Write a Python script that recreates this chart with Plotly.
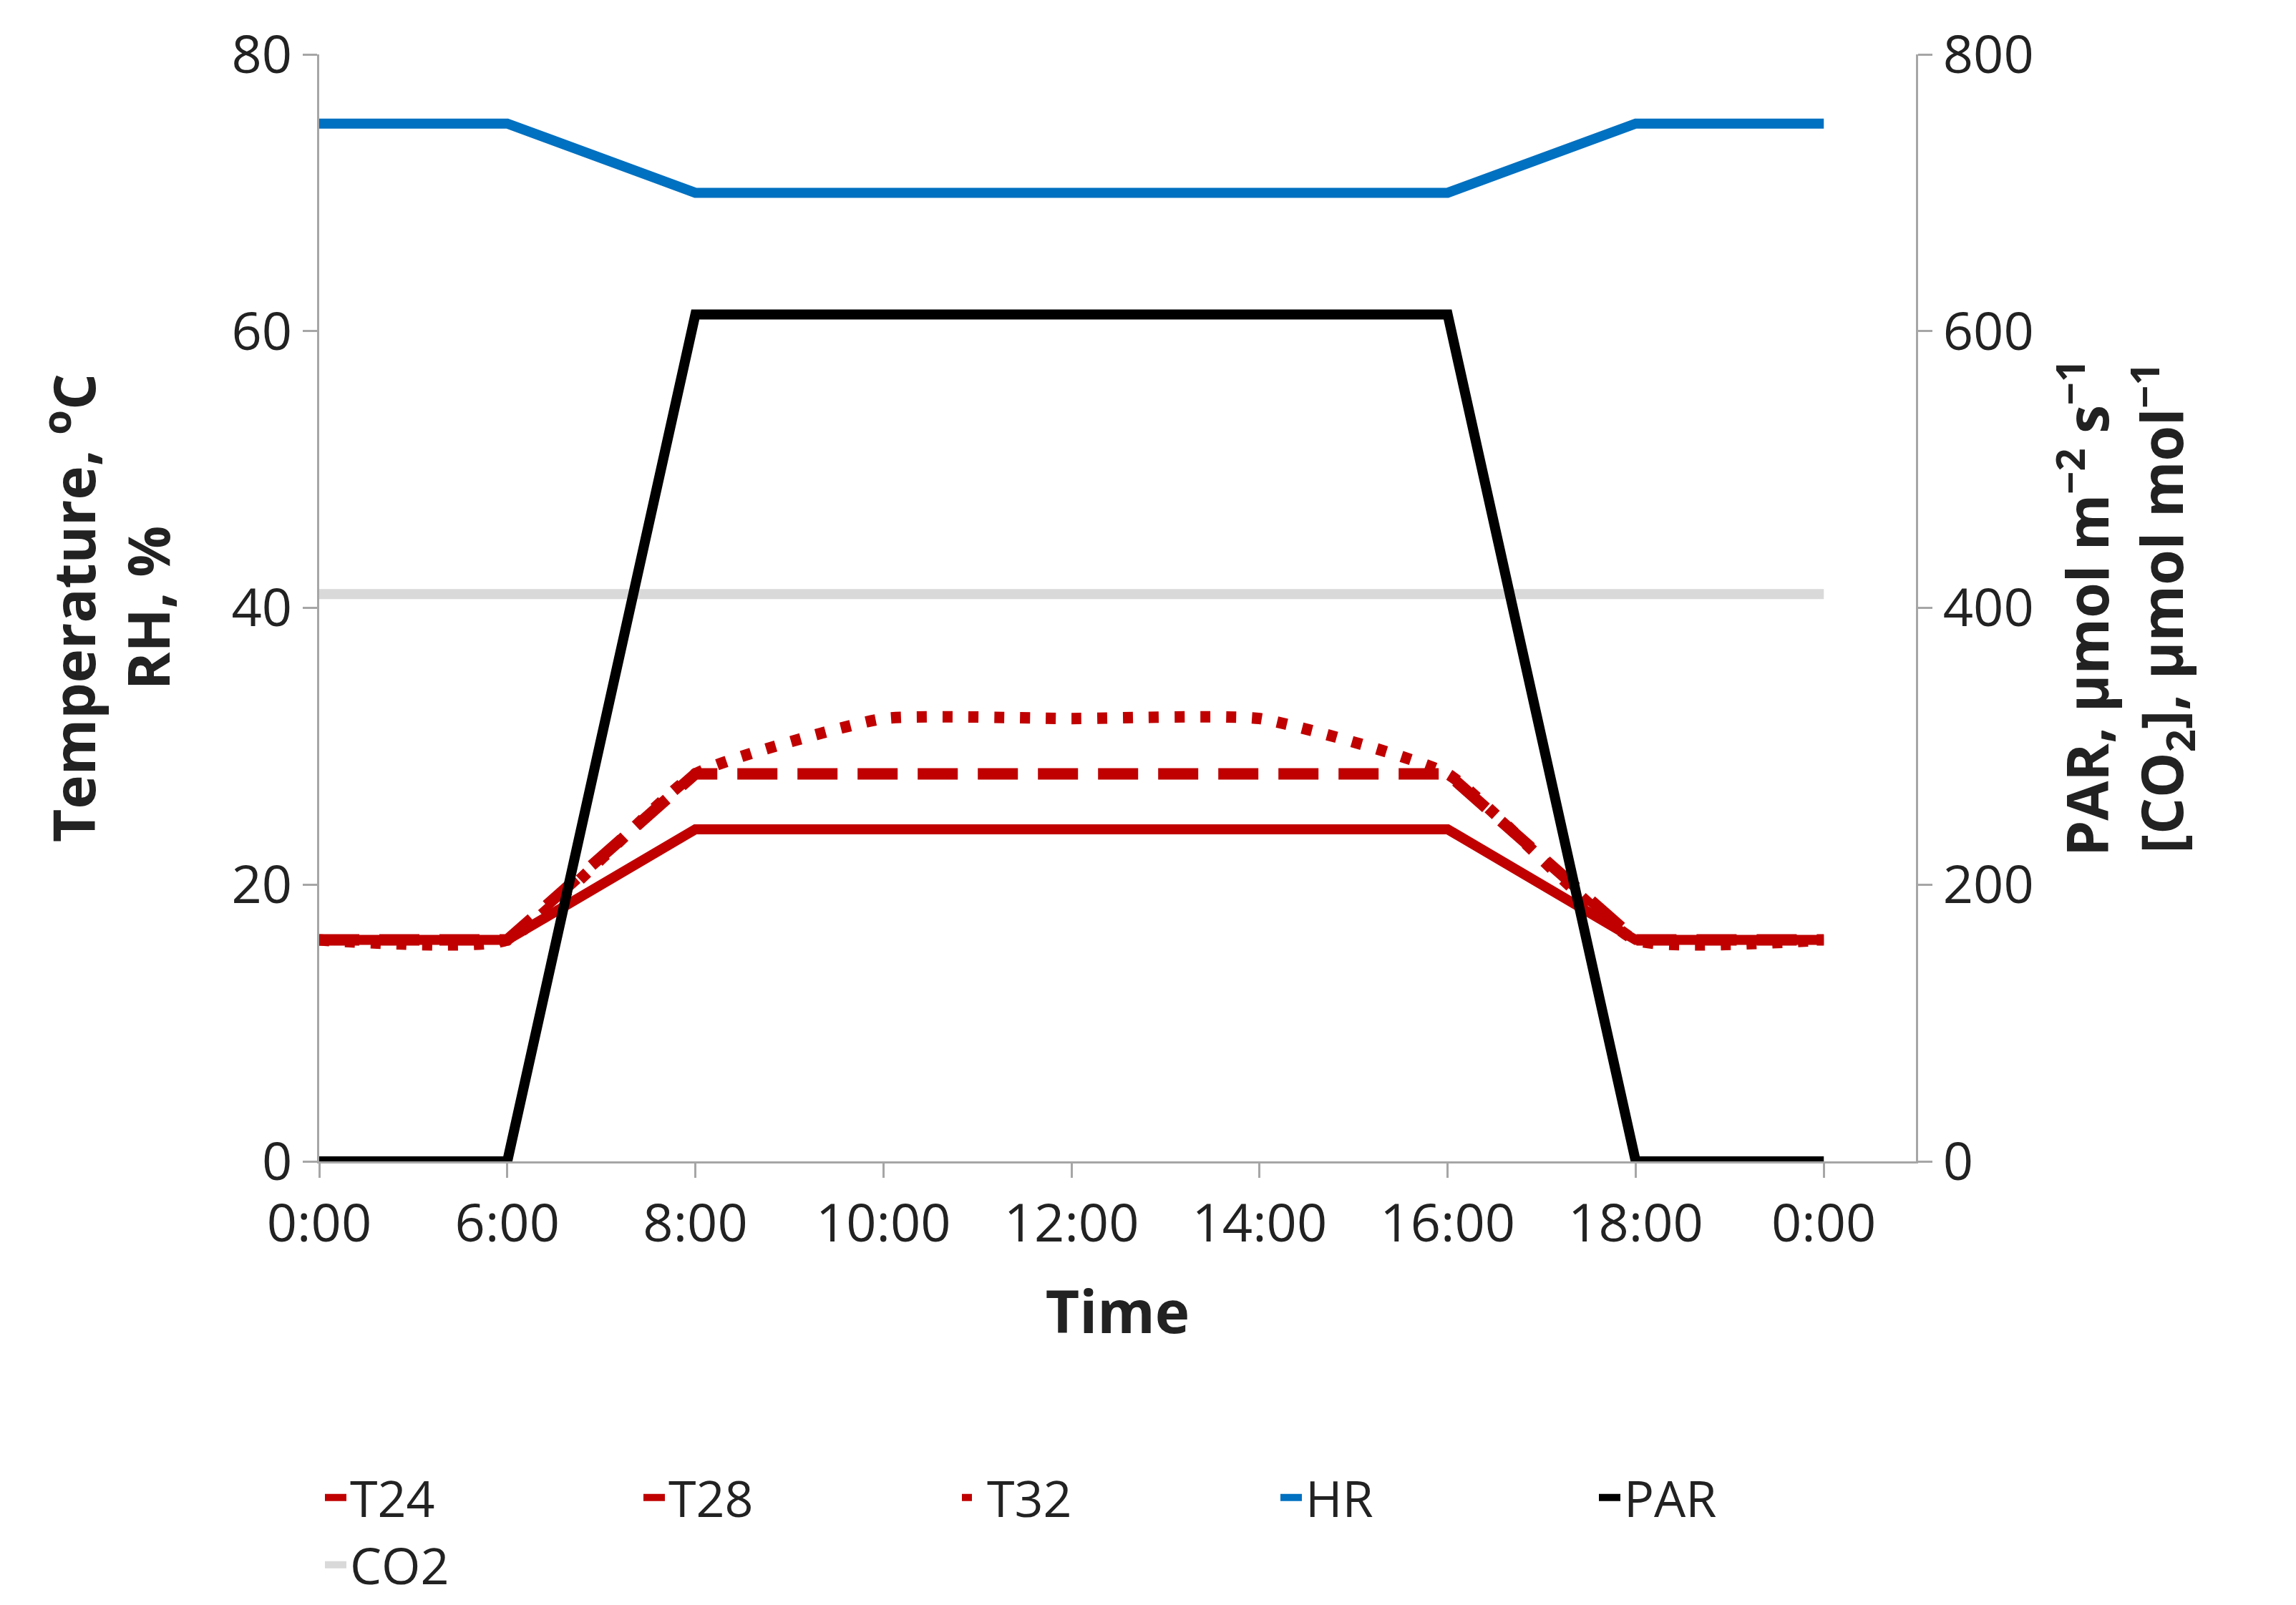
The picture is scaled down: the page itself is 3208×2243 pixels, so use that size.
import plotly.graph_objects as go

# categories (Excel category axis, evenly spaced)
time_labels = ["0:00", "6:00", "8:00", "10:00", "12:00", "14:00", "16:00", "18:00", "0:00"]
t24 = [16, 16, 24, 24, 24, 24, 24, 16, 16]
t28 = [16, 16, 28, 28, 28, 28, 28, 16, 16]
t32 = [16, 16, 28, 32, 32, 32, 28, 16, 16]
hr = [75, 75, 70, 70, 70, 70, 70, 75, 75]
par = [0, 0, 612, 612, 612, 612, 612, 0, 0]
co2 = [410, 410, 410, 410, 410, 410, 410, 410, 410]

x = list(range(len(time_labels)))
red = "#C00000"
lw = 14

fig = go.Figure()
fig.add_trace(go.Scatter(x=x, y=co2, name="CO2", mode="lines", yaxis="y2",
                         line=dict(color="#D9D9D9", width=lw), legendrank=6))
fig.add_trace(go.Scatter(x=x, y=par, name="PAR", mode="lines", yaxis="y2",
                         line=dict(color="black", width=lw), legendrank=5))
fig.add_trace(go.Scatter(x=x, y=hr, name="HR", mode="lines",
                         line=dict(color="#0070C0", width=lw), legendrank=4))
fig.add_trace(go.Scatter(x=x, y=t24, name="T24", mode="lines",
                         line=dict(color=red, width=lw), legendrank=1))
fig.add_trace(go.Scatter(x=x, y=t28, name="T28", mode="lines",
                         line=dict(color=red, width=lw + 2, dash="56px,28px"), legendrank=2))
fig.add_trace(go.Scatter(x=x, y=t32, name="T32", mode="lines",
                         line=dict(color=red, width=lw + 2, dash="14px,22px",
                                   shape="spline", smoothing=0.45), legendrank=3))

font = dict(family="Open Sans, Liberation Sans, sans-serif", size=74, color="#222222")
axis_common = dict(showgrid=False, zeroline=False, showline=True, linecolor="#A6A6A6",
                   linewidth=3, ticks="outside", ticklen=20, tickcolor="#A6A6A6", tickwidth=3)

fig.update_layout(
    width=3208, height=2243,
    margin=dict(l=438, r=539, t=68, b=567),
    plot_bgcolor="white", paper_bgcolor="white",
    font=font,
    xaxis=dict(axis_common, range=[0, 8.49], tickvals=x, ticktext=time_labels,
               title=dict(text="<b>Time</b>", font=dict(size=82), standoff=50)),
    yaxis=dict(axis_common, range=[0, 80], tickvals=[0, 20, 40, 60, 80],
               title=dict(text="<b>Temperature, <sup>o</sup>C<br>RH, %</b>",
                          font=dict(size=80), standoff=60)),
    yaxis2=dict(axis_common, range=[0, 800], tickvals=[0, 200, 400, 600, 800],
                overlaying="y", side="right",
                title=dict(text="<b>PAR, µmol m<sup>−2</sup> s<sup>−1</sup><br>[CO<sub>2</sub>], µmol mol<sup>−1</sup></b>",
                           font=dict(size=80), standoff=50)),
    legend=dict(orientation="h", x=0.5, xanchor="center", y=-0.27, yanchor="top",
                font=dict(size=70), entrywidth=400, entrywidthmode="pixels"),
    showlegend=True,
)

fig.write_html("out.html")
